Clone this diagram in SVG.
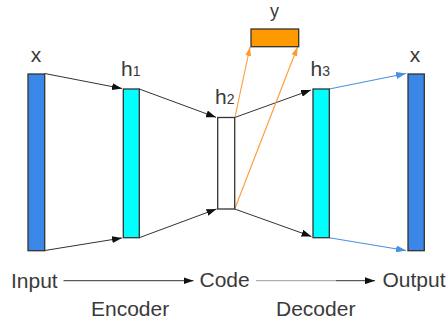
<svg xmlns="http://www.w3.org/2000/svg" width="447" height="324" viewBox="0 0 447 324">
<style>
.lbl{font-family:"Liberation Sans",Arial,sans-serif;font-size:21px;fill:#3a3a3a}
.sub{font-size:14px}
.bar{stroke:#333;stroke-width:1.3}
.blk{stroke:#333;stroke-width:1;fill:none}
.blu{stroke:#4a90e2;stroke-width:1.1;fill:none}
.org{stroke:#ff9a33;stroke-width:1.1;fill:none}
</style>
<defs>
<marker id="ab" markerUnits="userSpaceOnUse" markerWidth="10" markerHeight="7" refX="10" refY="3.5" orient="auto"><path d="M0,0 L10,3.5 L0,7 z" fill="#111"/></marker>
<marker id="au" markerUnits="userSpaceOnUse" markerWidth="10" markerHeight="7" refX="10" refY="3.5" orient="auto"><path d="M0,0 L10,3.5 L0,7 z" fill="#4a90e2"/></marker>
<marker id="ao" markerUnits="userSpaceOnUse" markerWidth="9" markerHeight="6" refX="9" refY="3" orient="auto"><path d="M0,0 L9,3 L0,6 z" fill="#ff9a33"/></marker>
</defs>
<rect width="447" height="324" fill="#fff"/>
<g id="connectors">
<line class="blk" x1="44.7" y1="73.5" x2="122" y2="88.5" marker-end="url(#ab)"/>
<line class="blk" x1="44.7" y1="250.5" x2="122" y2="238" marker-end="url(#ab)"/>
<line class="blk" x1="139.3" y1="89" x2="216" y2="117.3" marker-end="url(#ab)"/>
<line class="blk" x1="139.3" y1="237.7" x2="216.5" y2="209" marker-end="url(#ab)"/>
<line class="blk" x1="234.7" y1="117.5" x2="311" y2="90" marker-end="url(#ab)"/>
<line class="blk" x1="234.7" y1="209" x2="311.5" y2="236.5" marker-end="url(#ab)"/>
<line class="blu" x1="329.3" y1="89" x2="406" y2="73.5" marker-end="url(#au)"/>
<line class="blu" x1="329.3" y1="237.7" x2="406" y2="250.5" marker-end="url(#au)"/>
<line class="org" x1="235" y1="117" x2="250" y2="47" marker-end="url(#ao)"/>
<line class="org" x1="234.7" y1="209" x2="297.5" y2="47" marker-end="url(#ao)"/>
<line class="blk" x1="63.5" y1="280.7" x2="193.5" y2="280.7" marker-end="url(#ab)"/>
<line x1="256" y1="280.7" x2="336" y2="280.7" stroke="#9a9a9a" stroke-width="1"/>
<line class="blk" x1="336" y1="280.7" x2="375" y2="280.7" marker-end="url(#ab)"/>
</g>
<g id="input">
<rect class="bar" x="28" y="74" width="16.7" height="176.7" fill="#3a87e8"/>
<text class="lbl" x="36" y="61.5" text-anchor="middle">x</text>
</g>
<g id="h1">
<rect class="bar" x="123.3" y="89" width="16" height="148.7" fill="#00ffff"/>
<text class="lbl" x="121" y="76">h<tspan class="sub">1</tspan></text>
</g>
<g id="h2">
<rect class="bar" x="217.7" y="117.5" width="17" height="91.5" fill="#fff"/>
<text class="lbl" x="215" y="104">h<tspan class="sub">2</tspan></text>
</g>
<g id="h3">
<rect class="bar" x="313" y="89" width="16.3" height="148.7" fill="#00ffff"/>
<text class="lbl" x="310.5" y="76">h<tspan class="sub">3</tspan></text>
</g>
<g id="output">
<rect class="bar" x="408" y="74" width="16.3" height="176.7" fill="#3a87e8"/>
<text class="lbl" x="415" y="62" text-anchor="middle">x</text>
</g>
<g id="y">
<rect class="bar" x="251" y="29" width="47.7" height="17.7" fill="#ff9900"/>
<text class="lbl" x="274.5" y="16.5" text-anchor="middle" style="font-size:18px">y</text>
</g>
<g id="labels">
<text class="lbl" x="11" y="287.5">Input</text>
<text class="lbl" x="199.5" y="287">Code</text>
<text class="lbl" x="382.5" y="287">Output</text>
<text class="lbl" x="91" y="316">Encoder</text>
<text class="lbl" x="276" y="315.5">Decoder</text>
</g>
</svg>
